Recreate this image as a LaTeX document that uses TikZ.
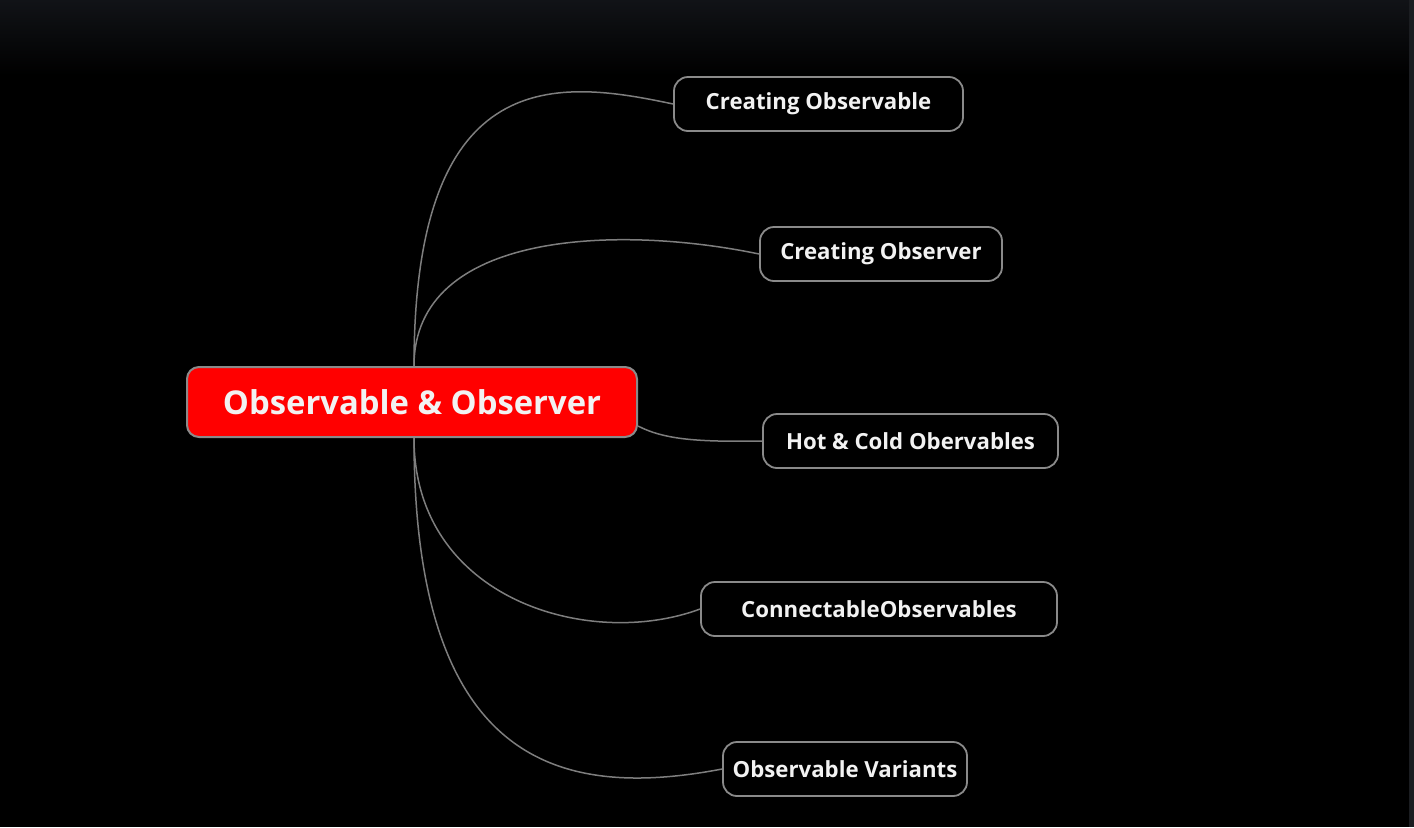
\documentclass[tikz,border=0pt]{standalone}
\usepackage{fontspec}
\setmainfont{Open Sans}
\definecolor{bgtop}{HTML}{111317}
\definecolor{edgegray}{HTML}{1B1D21}
\definecolor{rimgray}{HTML}{8A8A8A}
\definecolor{linkgray}{HTML}{7E7E7E}
\definecolor{topicred}{HTML}{FF0000}
\definecolor{labelwhite}{HTML}{F2F2F2}
\begin{document}
\begin{tikzpicture}[x=0.5pt,y=-0.5pt]
    % canvas, one unit per pixel
    \useasboundingbox (0,0) rectangle (1414,827);
    \fill[black] (0,0) rectangle (1414,827);
    \shade[top color=bgtop, bottom color=black] (0,0) rectangle (1414,75);
    \fill[edgegray] (1409,0) rectangle (1414,827);
    % node style definition
    \tikzstyle{central} = [
    	draw=rimgray, line width=1pt, fill=topicred, rectangle,
    	rounded corners=6pt, text=labelwhite,
    	minimum width=225pt, minimum height=35pt,
    	font=\fontsize{16.4}{19}\selectfont\bfseries ];
    \tikzstyle{topic} = [
    	draw=rimgray, line width=0.9pt, fill=black, rectangle,
    	rounded corners=7pt, text=labelwhite,
    	minimum height=27pt,
    	font=\fontsize{11.1}{13}\selectfont\bfseries ];
    \tikzstyle{link} = [draw=linkgray, line width=0.75pt];
    % the main topic
    \node[central] (root) at (412,402) {Observable \& Observer};
    % the sub topics
    \node[topic, minimum width=144.5pt] (creobl) at (818.5,104) {Creating Observable};
    \node[topic, minimum width=121pt] (creobs) at (881,254) {Creating Observer};
    \node[topic, minimum width=147.5pt] (hotcold) at (910.5,441) {Hot \& Cold Obervables};
    \node[topic, minimum width=178pt] (connect) at (879,609) {ConnectableObservables};
    \node[topic, minimum width=122pt] (variants) at (845,769) {Observable Variants};
    % links from the main topic
    \draw[link] ([xshift=1pt]root.north) .. controls (414,60) and (560,80) .. (creobl.west);
    \draw[link] ([xshift=1pt]root.north) .. controls (414,230) and (620,225) .. (creobs.west);
    \draw[link] ([yshift=-12pt]root.east) .. controls (665,440) and (700,442) .. (hotcold.west);
    \draw[link] ([xshift=1pt]root.south) .. controls (414,600) and (590,650) .. (connect.west);
    \draw[link] ([xshift=1pt]root.south) .. controls (414,765) and (560,800) .. (variants.west);
\end{tikzpicture}
\end{document}
